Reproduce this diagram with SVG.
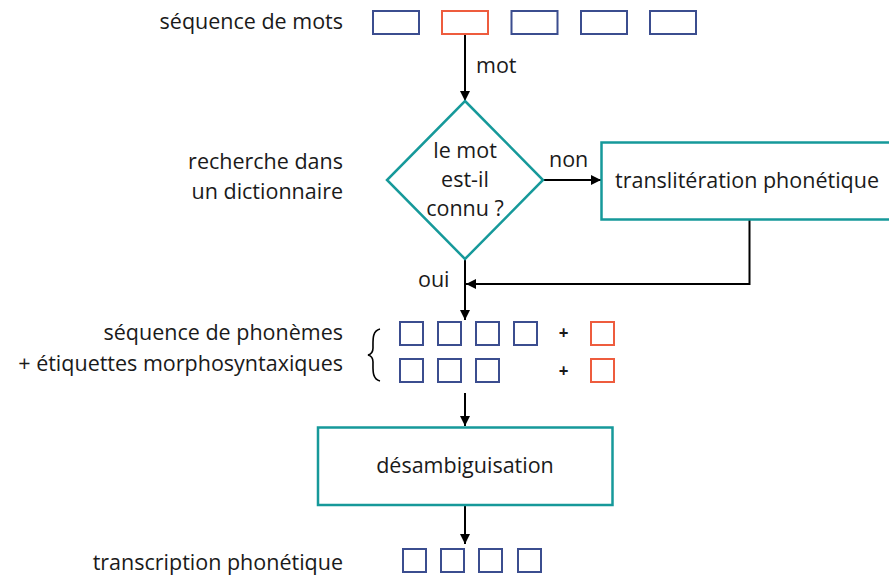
<svg xmlns="http://www.w3.org/2000/svg" width="889" height="576" viewBox="0 0 889 576">
<style>
text{font-family:"Open Sans","Noto Sans",sans-serif;font-size:21.5px;fill:#1a1a1a}
.r{text-anchor:end}
.m{text-anchor:middle}
.bl{fill:none;stroke:#3b4d8f;stroke-width:2}
.rd{fill:none;stroke:#ee5c3e;stroke-width:2}
.tl{fill:#fff;stroke:#16999a;stroke-width:2.5}
.cn{fill:none;stroke:#000;stroke-width:2}
.pl{font-size:17px;font-weight:bold}
</style>
<defs>
<marker id="ah" viewBox="0 0 10 10" refX="10" refY="5" markerWidth="10" markerHeight="10" markerUnits="userSpaceOnUse" orient="auto">
<path d="M0,0 L10,5 L0,10 z" fill="#000"/>
</marker>
</defs>
<g id="labels">
<text class="r" x="343" y="29">séquence de mots</text>
<text class="r" x="343" y="169">recherche dans</text>
<text class="r" x="343" y="199">un dictionnaire</text>
<text class="r" x="343" y="340">séquence de phonèmes</text>
<text class="r" x="343" y="371">+ étiquettes morphosyntaxiques</text>
<text class="r" x="343" y="570">transcription phonétique</text>
</g>
<g id="connectors">
<line class="cn" x1="465" y1="35" x2="465" y2="101" marker-end="url(#ah)"/>
<line class="cn" x1="543" y1="180" x2="601" y2="180" marker-end="url(#ah)"/>
<polyline class="cn" points="749.5,220 749.5,284 466,284" marker-end="url(#ah)"/>
<line class="cn" x1="465" y1="259" x2="465" y2="320" marker-end="url(#ah)"/>
<line class="cn" x1="465" y1="393" x2="465" y2="426" marker-end="url(#ah)"/>
<line class="cn" x1="465" y1="506" x2="465" y2="544" marker-end="url(#ah)"/>
<text x="476" y="73">mot</text>
<text x="549" y="167">non</text>
<text x="418" y="287">oui</text>
</g>
<g id="word-sequence">
<rect class="bl" x="373" y="11" width="46" height="23"/>
<rect class="rd" x="442" y="11" width="46" height="23"/>
<rect class="bl" x="511.5" y="11" width="46" height="23"/>
<rect class="bl" x="581" y="11" width="46" height="23"/>
<rect class="bl" x="650" y="11" width="46" height="23"/>
</g>
<g id="decision">
<polygon class="tl" points="465,101 543,180 465,259 387,180"/>
<text class="m" x="465" y="158">le mot</text>
<text class="m" x="465" y="187">est-il</text>
<text class="m" x="465" y="216">connu ?</text>
</g>
<g id="transliteration">
<rect class="tl" x="601.5" y="142.5" width="295" height="77"/>
<text x="615" y="188">translitération phonétique</text>
</g>
<g id="phonemes">
<path d="M380,329 C372,331 373,340 373,348 C373,352 372,354 368,355 C372,356 373,358 373,362 C373,370 372,379 380,381" fill="none" stroke="#000" stroke-width="1.6"/>
<rect class="bl" x="400" y="322" width="23" height="23"/>
<rect class="bl" x="438" y="322" width="23" height="23"/>
<rect class="bl" x="476" y="322" width="23" height="23"/>
<rect class="bl" x="514" y="322" width="23" height="23"/>
<text class="pl m" x="563.5" y="339">+</text>
<rect class="rd" x="591" y="322" width="23" height="23"/>
<rect class="bl" x="400" y="359" width="23" height="23"/>
<rect class="bl" x="438" y="359" width="23" height="23"/>
<rect class="bl" x="476" y="359" width="23" height="23"/>
<text class="pl m" x="563.5" y="377">+</text>
<rect class="rd" x="591" y="359" width="23" height="23"/>
</g>
<g id="disambiguation">
<rect class="tl" x="318" y="427.5" width="294.5" height="77.5"/>
<text class="m" x="465" y="473">désambiguisation</text>
</g>
<g id="transcription">
<rect class="bl" x="403" y="549" width="23" height="23"/>
<rect class="bl" x="441" y="549" width="23" height="23"/>
<rect class="bl" x="479" y="549" width="23" height="23"/>
<rect class="bl" x="518" y="549" width="23" height="23"/>
</g>
</svg>
